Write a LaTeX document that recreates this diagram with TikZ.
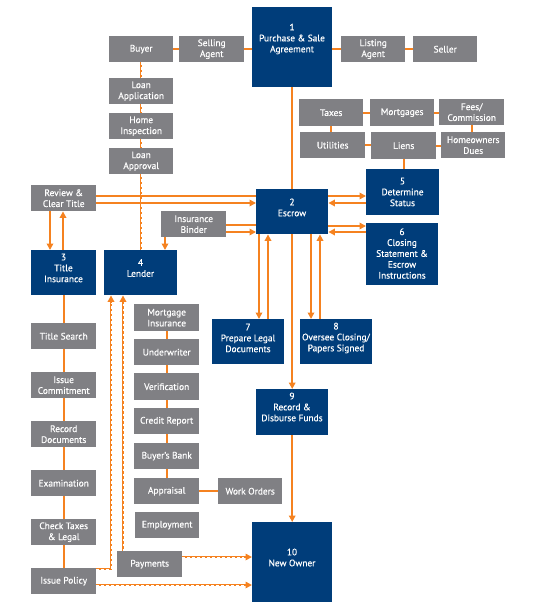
\documentclass[tikz,border=0pt]{standalone}
\usepackage{fontspec}
\setmainfont{PT Sans}
\newfontfamily\lblfont{PT Sans}[FakeBold=0.5]
\usetikzlibrary{arrows.meta}
\definecolor{navy}{RGB}{0,61,122}
\definecolor{gbox}{RGB}{128,128,132}
\definecolor{org}{RGB}{245,130,32}
\newcommand\gb[6]{\node[boxg, minimum width={(#4-#2)*1pt}, minimum height={(#5-#3)*1pt}] (#1) at (#2,#3) {#6};}
\newcommand\nb[7]{\node[boxn, minimum width={(#4-#2)*1pt}, minimum height={(#5-#3)*1pt}] (#1) at (#2,#3) {};
  \node[txt] (#1t) at ({(#2+#4)/2},#6) {#7};}
\begin{document}
\begin{tikzpicture}[x=1pt,y=-1pt,
  txt/.style={text=white, align=center, inner sep=0pt, font=\lblfont\fontsize{9.4}{10.9}\selectfont},
  boxg/.style={txt, fill=gbox, anchor=north west},
  boxn/.style={fill=navy, inner sep=0pt, anchor=north west},
  ln/.style={draw=org, line width=1.8pt},
  arr/.style={ln, -{Triangle[length=6.5pt,width=6.5pt]}},
  dsh/.style={postaction={draw=white, line width=0.6pt, dash pattern=on 2.5pt off 2.5pt, -}},
  dsha/.style={postaction={draw=white, line width=0.6pt, dash pattern=on 2.5pt off 2.5pt, -, shorten >=8pt}},
]
\useasboundingbox (0,0) rectangle (542,607);
% top row
\gb{buyer}{109}{36}{173}{62}{Buyer}
\gb{sell}{179}{36}{244}{62}{Selling\\Agent}
\nb{b1}{252}{7}{332}{87}{39}{1\\Purchase \& Sale\\Agreement}
\gb{list}{341}{36}{405}{62}{Listing\\Agent}
\gb{seller}{413}{36}{477}{62}{Seller}
% buyer column
\gb{lapp}{109}{78}{173}{104}{Loan\\Application}
\gb{home}{109}{113}{173}{139}{Home\\Inspection}
\gb{lappr}{109}{148}{173}{174}{Loan\\Approval}
% status group
\gb{taxes}{299}{99}{363}{126}{Taxes}
\gb{mort}{370}{99}{434}{126}{Mortgages}
\gb{fees}{439}{99}{504}{125}{Fees/\\Commission}
\gb{util}{300}{132}{365}{158}{Utilities}
\gb{liens}{371}{132}{436}{159}{Liens}
\gb{hod}{441}{132}{505}{158}{Homeowners\\Dues}
% main blue boxes
\nb{b5}{366}{169}{439}{215}{192}{5\\Determine\\Status}
\nb{b2}{256}{189}{328}{234}{207.5}{2\\Escrow}
\nb{b6}{366}{223}{438}{285}{253.5}{6\\Closing\\Statement \&\\Escrow\\Instructions}
\nb{b3}{31}{250}{96}{295}{268}{3\\Title\\Insurance}
\nb{b4}{104}{250}{177}{295}{268}{4\\Lender}
\nb{b7}{212}{319}{284}{364}{338}{7\\Prepare Legal\\Documents}
\nb{b8}{300}{319}{372}{364}{338}{8\\Oversee Closing/\\Papers Signed}
\nb{b9}{256}{389}{328}{435}{407}{9\\Record \&\\Disburse Funds}
\nb{b10}{252}{522}{332}{602}{557.5}{10\\New Owner}
% left grey
\gb{rev}{31}{185}{96}{211}{Review \&\\Clear Title}
\gb{bind}{161}{211}{226}{237}{Insurance\\Binder}
\gb{ts}{31}{323}{96}{349}{Title Search}
\gb{ic}{31}{372}{96}{398}{Issue\\Commitment}
\gb{rd}{31}{421}{96}{447}{Record\\Documents}
\gb{ex}{31}{470}{96}{496}{Examination}
\gb{ct}{31}{519}{96}{545}{Check Taxes\\\& Legal}
\gb{ip}{31}{568}{96}{594}{Issue Policy}
% lender grey
\gb{mi}{134}{304}{199}{331}{Mortgage\\Insurance}
\gb{uw}{134}{339}{199}{365}{Underwriter}
\gb{ver}{134}{373}{199}{400}{Verification}
\gb{cr}{134}{408}{199}{434}{Credit Report}
\gb{bb}{134}{443}{199}{469}{Buyer’s Bank}
\gb{ap}{134}{478}{199}{504}{Appraisal}
\gb{emp}{135}{512}{199}{538}{Employment}
\gb{wo}{218}{478}{282}{504}{Work Orders}
\gb{pay}{117}{551}{182}{577}{Payments}
% ---- connectors ----
\draw[ln] (buyer.east) -- (sell.west);
\draw[ln] (sell.east) -- (sell.east -| b1.west);
\draw[ln] (list.west -| b1.east) -- (list.west);
\draw[ln] (list.east) -- (seller.west);
\draw[ln,dsh] (buyer.south) -- (lapp.north);
\draw[ln,dsh] (lapp.south) -- (home.north);
\draw[ln,dsh] (home.south) -- (lappr.north);
\draw[ln,dsh] (lappr.south) -- (lappr.south |- b4.north);
\draw[ln] (taxes.east) -- (taxes.east -| mort.west);
\draw[ln] (mort.east) -- (mort.east -| fees.west);
\draw[ln] (taxes.south) -- (taxes.south |- util.north);
\draw[ln] (util.east) -- (util.east -| liens.west);
\draw[ln] (liens.east) -- (liens.east -| hod.west);
\draw[ln] (fees.south) -- (fees.south |- hod.north);
\draw[ln] (liens.south) -- (liens.south |- b5.north);
\draw[ln] (b1.south) -- (b2.north);
\draw[ln] (rev.east |- 0,196) -- (b2.west |- 0,196);
\draw[arr] (rev.east |- 0,203) -- (b2.west |- 0,203);
\draw[ln] (bind.east |- 0,225) -- (b2.west |- 0,225);
\draw[arr] (bind.east |- 0,232) -- (b2.west |- 0,232);
\draw[arr] (b2.east |- 0,196) -- (b5.west |- 0,196);
\draw[arr] (b5.west |- 0,203) -- (b2.east |- 0,203);
\draw[arr] (b2.east |- 0,226) -- (b6.west |- 0,226);
\draw[arr] (b6.west |- 0,232) -- (b2.east |- 0,232);
\draw[arr] (rev.south -| 50,0) -- (b3.north -| 50,0);
\draw[arr] (b3.north -| 63,0) -- (rev.south -| 63,0);
\draw[arr] (bind.south -| 165,0) -- (b4.north -| 165,0);
\draw[arr] (b2.south -| 259,0) -- (b7.north -| 259,0);
\draw[arr] (b7.north -| 268,0) -- (b2.south -| 268,0);
\draw[arr] (b2.south -| 311,0) -- (b8.north -| 311,0);
\draw[arr] (b8.north -| 320,0) -- (b2.south -| 320,0);
\draw[arr] (b2.south) -- (b9.north);
\draw[arr] (b9.south) -- (b10.north);
\draw[ln] (b3.south -| ts.north) -- (ts.north);
\draw[ln] (ts.south) -- (ic.north);
\draw[ln] (ic.south) -- (rd.north);
\draw[ln] (rd.south) -- (ex.north);
\draw[ln] (ex.south) -- (ct.north);
\draw[ln] (ct.south) -- (ip.north);
\draw[ln] (mi.south) -- (uw.north);
\draw[ln] (uw.south) -- (ver.north);
\draw[ln] (ver.south) -- (cr.north);
\draw[ln] (cr.south) -- (bb.north);
\draw[ln] (bb.south) -- (ap.north);
\draw[ln] (ap.east) -- (ap.east -| wo.west);
\draw[arr,dsha] (ip.east |- 0,569) -| (b4.south -| 111,0);
\draw[arr,dsha] (pay.north -| 123,0) -- (b4.south -| 123,0);
\draw[arr,dsha] (pay.east |- 0,557) -- (b10.west |- 0,557);
\draw[arr,dsha] (ip.east |- 0,585) -- (b10.west |- 0,585);
\end{tikzpicture}
\end{document}
